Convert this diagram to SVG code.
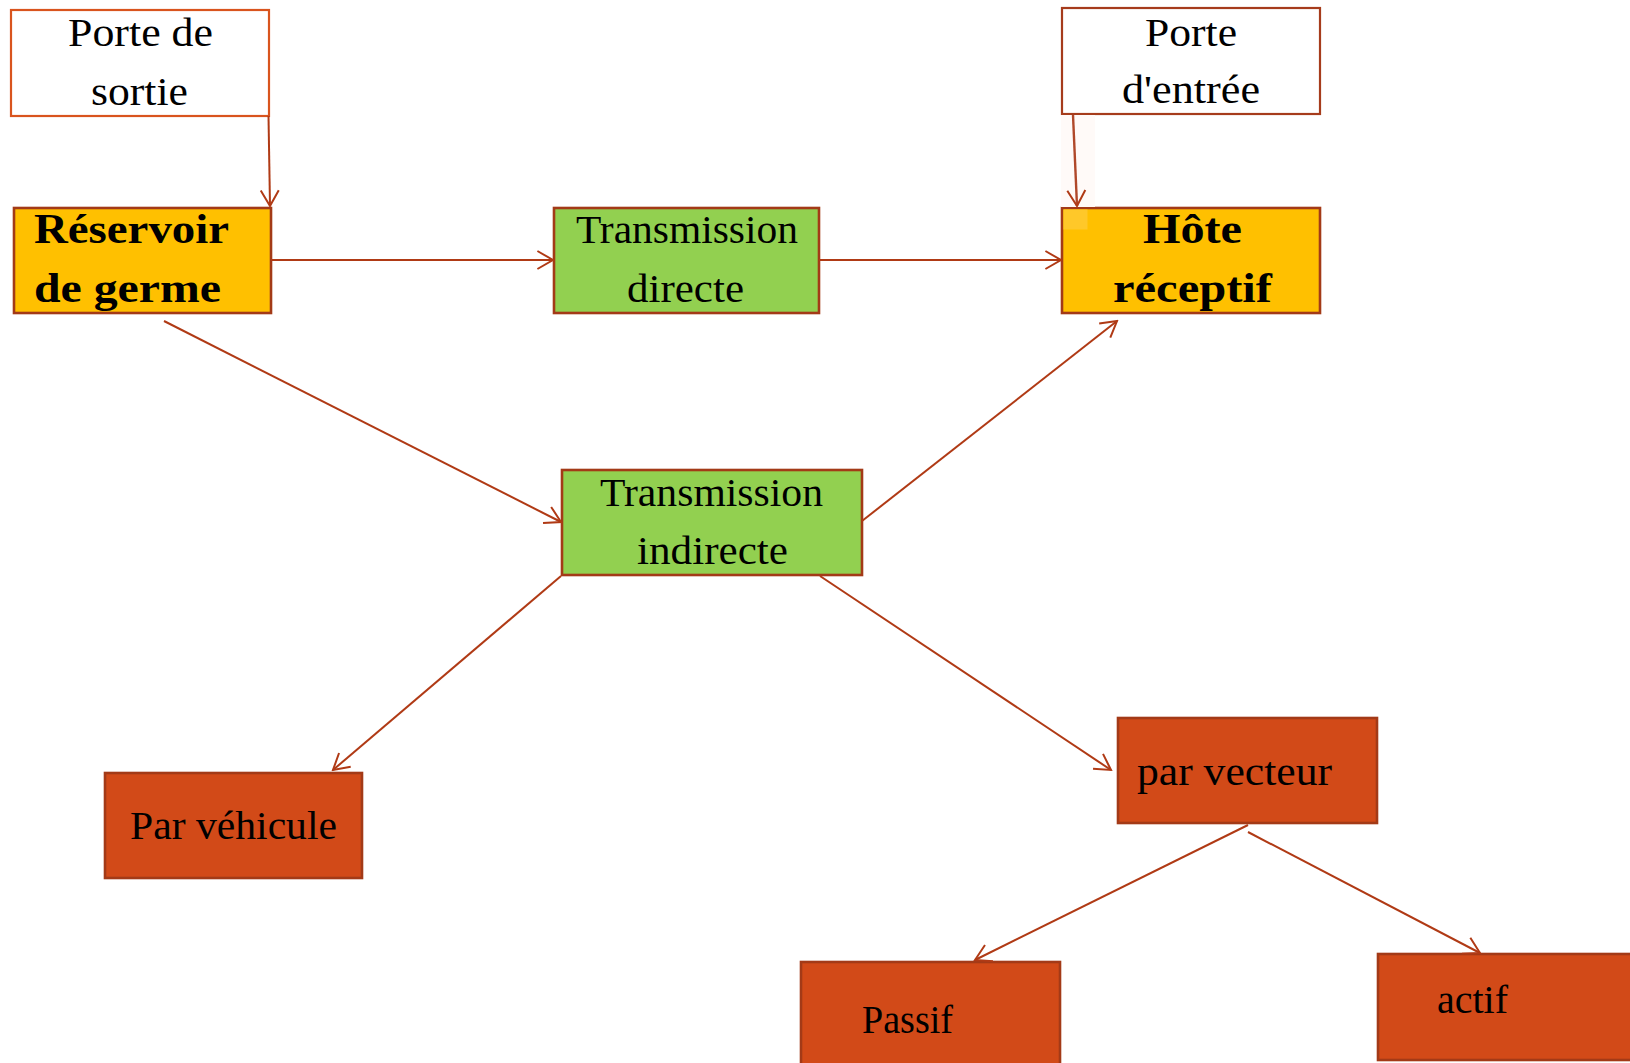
<svg xmlns="http://www.w3.org/2000/svg" width="1630" height="1063" viewBox="0 0 1630 1063">
  <style>
    .lbl { font-family: "Liberation Serif", "Times New Roman", serif; font-size: 41px; fill: #000; }
    .bold { font-weight: bold; font-size: 42px; }
    .gate { fill: #FFFFFF; stroke-width: 2.2; }
    .res { fill: #FFC000; stroke: #A33A17; stroke-width: 2.6; }
    .trans { fill: #92D050; stroke: #A33A17; stroke-width: 2.6; }
    .mode { fill: #D24A18; stroke: #A33A17; stroke-width: 2.6; }
    .conn line { stroke: #B03A15; stroke-width: 2; fill: none; marker-end: url(#open-arrow); }
  </style>
  <defs>
    <marker id="open-arrow" viewBox="-18 -11 20 22" refX="0" refY="0" markerWidth="20" markerHeight="22" markerUnits="userSpaceOnUse" orient="auto">
      <path d="M-15.6,-9 L0,0 L-15.6,9" fill="none" stroke="#B03A15" stroke-width="2" stroke-linejoin="miter"/>
    </marker>
  </defs>

  <rect width="1630" height="1063" fill="#FFFFFF"/>

  <!-- exit gate -->
  <g id="porte-sortie">
    <rect class="gate" x="11" y="10" width="258" height="106" stroke="#D9541E"/>
    <text class="lbl" x="68" y="46" textLength="145" lengthAdjust="spacingAndGlyphs">Porte de</text>
    <text class="lbl" x="91" y="105" textLength="97" lengthAdjust="spacingAndGlyphs">sortie</text>
  </g>

  <!-- entry gate -->
  <g id="porte-entree">
    <rect class="gate" x="1062" y="8" width="258" height="106" stroke="#A63C1C"/>
    <text class="lbl" x="1145" y="46" textLength="92" lengthAdjust="spacingAndGlyphs">Porte</text>
    <text class="lbl" x="1122" y="103" textLength="138" lengthAdjust="spacingAndGlyphs">d'entrée</text>
  </g>

  <!-- reservoir -->
  <g id="reservoir">
    <rect class="res" x="14" y="208" width="257" height="105"/>
    <text class="lbl bold" x="34" y="243" textLength="195" lengthAdjust="spacingAndGlyphs">Réservoir</text>
    <text class="lbl bold" x="34" y="302" textLength="187" lengthAdjust="spacingAndGlyphs">de germe</text>
  </g>

  <!-- direct transmission -->
  <g id="transmission-directe">
    <rect class="trans" x="554" y="208" width="265" height="105"/>
    <text class="lbl" x="576" y="243" textLength="222" lengthAdjust="spacingAndGlyphs">Transmission</text>
    <text class="lbl" x="627" y="302" textLength="117" lengthAdjust="spacingAndGlyphs">directe</text>
  </g>

  <!-- receptive host -->
  <g id="hote-receptif">
    <rect class="res" x="1062" y="208" width="258" height="105"/>
    <rect x="1063.5" y="209.5" width="24" height="20" fill="#FFC829"/>
    <text class="lbl bold" x="1143" y="243" textLength="99" lengthAdjust="spacingAndGlyphs">Hôte</text>
    <text class="lbl bold" x="1113" y="302" textLength="159" lengthAdjust="spacingAndGlyphs">réceptif</text>
  </g>

  <!-- indirect transmission -->
  <g id="transmission-indirecte">
    <rect class="trans" x="562" y="470" width="300" height="105"/>
    <text class="lbl" x="600" y="506" textLength="223" lengthAdjust="spacingAndGlyphs">Transmission</text>
    <text class="lbl" x="637" y="564" textLength="151" lengthAdjust="spacingAndGlyphs">indirecte</text>
  </g>

  <!-- by vehicle -->
  <g id="par-vehicule">
    <rect class="mode" x="105" y="773" width="257" height="105"/>
    <text class="lbl" x="130" y="839" textLength="207" lengthAdjust="spacingAndGlyphs">Par véhicule</text>
  </g>

  <!-- by vector -->
  <g id="par-vecteur">
    <rect class="mode" x="1118" y="718" width="259" height="105"/>
    <text class="lbl" x="1137" y="785" textLength="195" lengthAdjust="spacingAndGlyphs">par vecteur</text>
  </g>

  <!-- passive -->
  <g id="passif">
    <rect class="mode" x="801" y="962" width="259" height="110"/>
    <text class="lbl" x="862" y="1033" textLength="91" lengthAdjust="spacingAndGlyphs">Passif</text>
  </g>

  <!-- active -->
  <g id="actif">
    <rect class="mode" x="1378" y="954" width="262" height="106"/>
    <text class="lbl" x="1437" y="1013" textLength="71" lengthAdjust="spacingAndGlyphs">actif</text>
  </g>

  <!-- connectors -->
  <g id="connectors" class="conn">
    <line x1="268.5" y1="116" x2="270" y2="206"/>
    <rect x="1061" y="115" width="34" height="92" fill="#FFFAF8" stroke="none"/>
    <line x1="1073" y1="115" x2="1077" y2="206" style="stroke:#B0482A;stroke-width:2.4"/>
    <line x1="271" y1="260" x2="553" y2="260"/>
    <line x1="819" y1="260" x2="1061" y2="260"/>
    <line x1="164" y1="321" x2="561" y2="522"/>
    <line x1="862" y1="521" x2="1117" y2="321"/>
    <line x1="561" y1="576" x2="333" y2="770"/>
    <line x1="820" y1="576" x2="1111" y2="770"/>
    <line x1="1248" y1="825" x2="975" y2="960"/>
    <line x1="1248" y1="832" x2="1480" y2="953"/>
  </g>
</svg>
